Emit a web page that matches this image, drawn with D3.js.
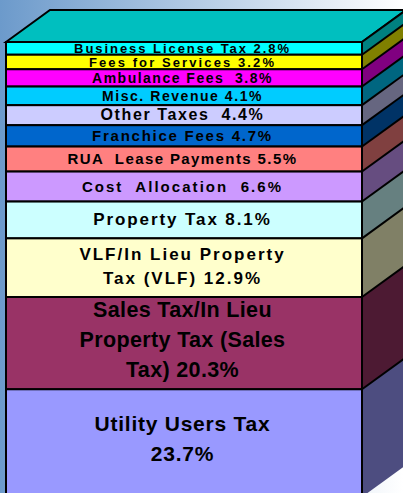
<!DOCTYPE html>
<html><head><meta charset="utf-8">
<script src="https://cdnjs.cloudflare.com/ajax/libs/d3/7.8.5/d3.min.js"></script>
<style>html,body{margin:0;padding:0;background:#fff;overflow:hidden}svg{display:block}</style>
</head><body><svg id="c" width="403" height="493"></svg>
<script>
const categories=["Business License Tax","Fees for Services","Ambulance Fees","Misc. Revenue","Other Taxes","Franchice Fees","RUA Lease Payments","Cost Allocation","Property Tax","VLF/In Lieu Property Tax (VLF)","Sales Tax/In Lieu Property Tax (Sales Tax)","Utility Users Tax"];
const values=[2.8,3.2,3.8,4.1,4.4,4.7,5.5,6.6,8.1,12.9,20.3,23.7];
const labelLines=[["Business License Tax 2.8%"],["Fees for Services 3.2%"],["Ambulance Fees  3.8%"],["Misc. Revenue 4.1%"],["Other Taxes  4.4%"],["Franchice Fees 4.7%"],["RUA  Lease Payments 5.5%"],["Cost  Allocation  6.6%"],["Property Tax 8.1%"],["VLF/In Lieu Property","Tax (VLF) 12.9%"],["Sales Tax/In Lieu","Property Tax (Sales","Tax) 20.3%"],["Utility Users Tax","23.7%"]];
const colors=["#00ffff","#ffff00","#ff00ff","#00ccff","#ccccff","#0066cc","#ff8080","#cc99ff","#ccffff","#ffffcc","#993366","#9999ff"];
const fontSizes=[13,13,14,14,16,15,15,15,17,17,21.5,21];
const letterSpacings=[1.95,2.1,1.5,1.55,1.6,1.75,1.4,2.05,1.9,2,0.35,0.75];
const lineHeights=[0,0,0,0,0,0,0,0,0,24,30,30];
const labelShifts=[0,0,0,0,-1,0,0,0,-0.5,-1.5,-1.5,-2.5];

const svg=d3.select("#c");
const W=403,H=493;
const defs=svg.append("defs");
const g=defs.append("linearGradient").attr("id","bg").attr("x1",0).attr("x2",1).attr("y1",0).attr("y2",0);
g.append("stop").attr("offset",0).attr("stop-color","#6c9acb");
g.append("stop").attr("offset",1).attr("stop-color","#ffffff");
svg.append("rect").attr("width",W).attr("height",H).attr("fill","url(#bg)");

const x=d3.scaleLinear().domain([0,1]).range([6,362]);
const total=d3.sum(values);
const y=d3.scaleLinear().domain([0,total]).range([42,497]);
const depth={x:44,y:-32};
const cum=d3.cumsum(values);
const rows=values.map((v,i)=>({i,v,c0:i?cum[i-1]:0,c1:cum[i]}));
const shade=(c,k)=>{const r=d3.rgb(c);return d3.rgb(r.r*k,r.g*k,r.b*k).formatHex();};
const st=s=>s.attr("stroke","#000").attr("stroke-width",2).attr("stroke-linejoin","miter");
const path=d3.line();

// top face
st(svg.append("path").attr("d",path([[x(0),y(0)],[x(0)+depth.x,y(0)+depth.y],[x(1)+depth.x,y(0)+depth.y],[x(1),y(0)]])+"Z").attr("fill",shade(colors[0],0.75)));

// right faces: fills, then only the upper edge of each one
svg.selectAll(".side").data(rows).join("path").attr("class","side")
 .attr("d",d=>path([[x(1),y(d.c0)],[x(1)+depth.x,y(d.c0)+depth.y],[x(1)+depth.x,y(d.c1)+depth.y],[x(1),y(d.c1)]])+"Z")
 .attr("fill",d=>shade(colors[d.i],0.5));
st(svg.selectAll(".edge").data(rows).join("path").attr("class","edge")
 .attr("d",d=>path([[x(1),y(d.c0)],[x(1)+depth.x,y(d.c0)+depth.y]])).attr("fill","none"));

// front faces
st(svg.selectAll(".front").data(rows).join("rect").attr("class","front")
 .attr("x",x(0)).attr("width",x(1)-x(0)).attr("y",d=>y(d.c0)).attr("height",d=>y(d.c1)-y(d.c0))
 .attr("fill",d=>colors[d.i]));

// labels
const t=svg.selectAll(".lab").data(rows).join("text").attr("class","lab")
 .attr("text-anchor","middle").attr("font-family","'Liberation Sans',Arial,sans-serif").attr("font-weight","bold").attr("fill","#000")
 .attr("font-size",d=>fontSizes[d.i]).attr("letter-spacing",d=>letterSpacings[d.i]);
t.each(function(d){
  const lines=labelLines[d.i],lh=lineHeights[d.i];
  const cy=(y(d.c0)+y(d.c1))/2+labelShifts[d.i];
  d3.select(this).selectAll("tspan").data(lines).join("tspan")
    .attr("x",(x(0)+x(1))/2-1.5)
    .attr("y",(l,j)=>cy+(j-(lines.length-1)/2)*lh+Math.min(fontSizes[d.i]*0.36,5.5))
    .style("white-space","pre").text(l=>l);
});
</script></body></html>
